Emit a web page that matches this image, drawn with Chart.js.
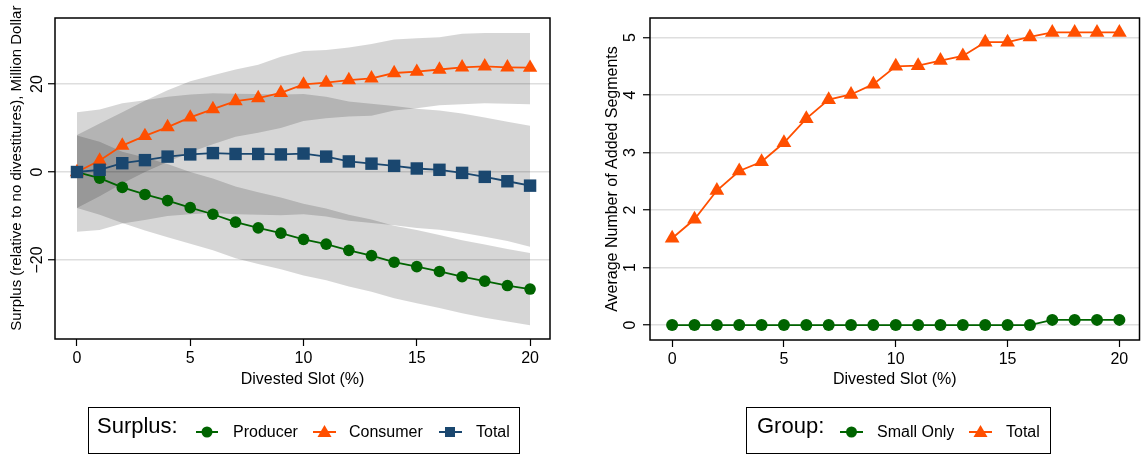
<!DOCTYPE html>
<html><head><meta charset="utf-8">
<script src="https://cdn.jsdelivr.net/npm/chart.js@4/dist/chart.umd.min.js"></script>
<style>
html,body{margin:0;padding:0;background:#fff;}
#wrap{position:relative;width:1148px;height:457px;overflow:hidden;background:#fff;}
canvas{position:absolute;top:0;}
#c1{left:0;}
#c2{left:575px;}
#lg{position:absolute;left:0;top:0;pointer-events:none;}
#lg text{font-family:"Liberation Sans",Arial,sans-serif;fill:#000;}
</style></head><body>
<div id="wrap">
<canvas id="c1" width="575" height="400"></canvas>
<canvas id="c2" width="573" height="400"></canvas>
<svg id="lg" width="1148" height="457">
  <rect x="88.5" y="407.5" width="431" height="46" fill="none" stroke="#000" stroke-width="1"/>
  <text x="97" y="433" font-size="22">Surplus:</text>
  <line x1="196" y1="432" x2="218" y2="432" stroke="#006400" stroke-width="2"/>
  <circle cx="207" cy="432" r="5.5" fill="#006400"/>
  <text x="233" y="437" font-size="16">Producer</text>
  <line x1="313" y1="432" x2="336" y2="432" stroke="#ff4f00" stroke-width="2"/>
  <polygon points="324.5,425 331.5,437 317.5,437" fill="#ff4f00"/>
  <text x="349" y="437" font-size="16">Consumer</text>
  <line x1="439" y1="432" x2="462" y2="432" stroke="#1a476f" stroke-width="2"/>
  <rect x="445" y="427" width="10" height="10" fill="#1a476f"/>
  <text x="476" y="437" font-size="16">Total</text>

  <rect x="746.5" y="407.5" width="304" height="46" fill="none" stroke="#000" stroke-width="1"/>
  <text x="757" y="433" font-size="22">Group:</text>
  <line x1="840" y1="432" x2="863" y2="432" stroke="#006400" stroke-width="2"/>
  <circle cx="851.5" cy="432" r="5.5" fill="#006400"/>
  <text x="877" y="437" font-size="16">Small Only</text>
  <line x1="969" y1="432" x2="992" y2="432" stroke="#ff4f00" stroke-width="2"/>
  <polygon points="980.5,425 987.5,437 973.5,437" fill="#ff4f00"/>
  <text x="1006" y="437" font-size="16">Total</text>
</svg>
</div>
<script>
// ---------- data ----------
const slots = [0,1,2,3,4,5,6,7,8,9,10,11,12,13,14,15,16,17,18,19,20];

const producer = [0,-1.4,-3.5,-5.1,-6.5,-8.1,-9.6,-11.4,-12.7,-13.9,-15.3,-16.4,-17.8,-19.0,-20.5,-21.5,-22.6,-23.8,-24.8,-25.8,-26.6];
const consumer = [0,2.6,6.0,8.2,10.2,12.4,14.3,16.1,16.8,18.0,19.9,20.3,20.9,21.3,22.5,22.8,23.3,23.8,24.0,23.8,23.7];
const totalSurplus = [0,0.5,2.0,2.7,3.5,4.0,4.3,4.1,4.1,4.0,4.2,3.5,2.4,1.9,1.4,0.8,0.5,-0.2,-1.1,-2.1,-3.1];

const producerHi = [8.3,6.9,4.6,3.3,1.8,0.0,-1.5,-3.3,-4.6,-5.8,-7.2,-8.3,-9.7,-10.8,-12.2,-13.2,-14.3,-15.5,-16.5,-17.5,-18.4];
const producerLo = [-8.2,-9.7,-11.6,-13.3,-14.8,-16.3,-17.8,-19.6,-20.9,-22.1,-23.5,-24.6,-26.0,-27.2,-28.7,-29.8,-30.9,-32.1,-33.1,-34.0,-34.8];
const consumerHi = [8.4,11.0,13.6,16.2,18.6,20.6,22.0,23.3,24.4,26.2,27.5,27.7,28.3,29.1,30.1,30.4,30.6,31.4,31.6,31.6,31.6];
const consumerLo = [-8.2,-5.5,-2.6,0.0,2.3,4.5,6.3,8.0,8.9,10.0,11.6,12.2,12.6,12.8,14.0,14.5,15.2,15.4,15.6,15.5,15.4];
const totalHi = [13.6,14.2,15.6,16.3,17.1,17.6,17.9,17.8,17.7,17.6,17.7,17.1,16.0,15.5,15.0,14.4,14.0,13.3,12.4,11.4,10.5];
const totalLo = [-13.6,-13.2,-11.7,-10.9,-10.0,-9.6,-9.3,-9.6,-9.7,-9.8,-9.6,-10.1,-11.1,-11.6,-12.1,-12.7,-13.1,-13.8,-14.7,-15.7,-17.0];

const smallOnly = [0,0,0,0,0,0,0,0,0,0,0,0,0,0,0,0,0,0.09,0.09,0.09,0.09];
const totalSegments = [1.51,1.84,2.34,2.68,2.84,3.17,3.59,3.92,4.01,4.19,4.50,4.51,4.60,4.68,4.92,4.92,5.01,5.09,5.09,5.09,5.09];

const xTicks = [0,5,10,15,20];
const leftYTicks = [-20,0,20];
const rightYTicks = [0,1,2,3,4,5];

// ---------- styling ----------
const GREEN = '#006400', ORANGE = '#ff4f00', NAVY = '#1a476f';
const BAND = 'rgba(0,0,0,0.16)';
const FONT = '"Liberation Sans", Arial, sans-serif';
Chart.defaults.font.family = FONT;
Chart.defaults.color = '#000';

const pts = arr => slots.map((x, i) => ({x: x, y: arr[i]}));
const fmt = v => String(v).replace('-', '\u2212');

function bandSets(hi, lo) {
  return [
    {data: pts(hi), showLine: false, borderColor: 'rgba(0,0,0,0)', pointRadius: 0, fill: '+1', backgroundColor: BAND, order: 10},
    {data: pts(lo), showLine: false, borderColor: 'rgba(0,0,0,0)', pointRadius: 0, fill: false, order: 10}
  ];
}
function lineSet(arr, color, style, radius, order) {
  return {data: pts(arr), borderColor: color, backgroundColor: color, borderWidth: 1.8,
    pointStyle: style, pointRadius: radius, pointBorderWidth: 0, pointBackgroundColor: color,
    fill: false, tension: 0, order: order};
}

const framePlugin = {
  id: 'frame',
  afterDatasetsDraw(chart) {
    const {ctx, chartArea: a} = chart;
    ctx.save();
    ctx.strokeStyle = '#000';
    ctx.lineWidth = 1.5;
    ctx.strokeRect(a.left, a.top, a.right - a.left, a.bottom - a.top);
    ctx.restore();
  }
};

function xScale(min, max, h) {
  return {
    type: 'linear', min: min, max: max,
    afterBuildTicks: s => { s.ticks = xTicks.map(v => ({value: v})); },
    afterFit: s => { s.height = h; },
    ticks: {autoSkip: false, maxRotation: 0, minRotation: 0, padding: 3, font: {size: 16}, callback: v => fmt(v)},
    grid: {drawOnChartArea: false, drawTicks: true, tickLength: 7, tickColor: '#000', tickWidth: 1.2},
    border: {display: false},
    title: {display: true, text: 'Divested Slot (%)', font: {size: 16}, padding: {top: 0, bottom: 11}}
  };
}
function yScale(min, max, ticks, w, pad, title, align, titlePad, titleSize) {
  return {
    type: 'linear', min: min, max: max,
    afterBuildTicks: s => { s.ticks = ticks.map(v => ({value: v})); },
    afterFit: s => { s.width = w; },
    ticks: {autoSkip: false, minRotation: 90, maxRotation: 90, crossAlign: 'center', padding: pad, font: {size: 16}, callback: v => fmt(v)},
    grid: {color: '#dedede', lineWidth: 1.5, drawTicks: true, tickLength: 7, tickColor: '#000', tickWidth: 1.2},
    border: {display: false},
    title: {display: true, text: title, align: align, font: {size: titleSize}, padding: {top: titlePad, bottom: 0}}
  };
}

const common = {
  responsive: false, animation: false, events: [], devicePixelRatio: 1,
  plugins: {legend: {display: false}, tooltip: {enabled: false}}
};

new Chart(document.getElementById('c1'), {
  type: 'line',
  data: {
    datasets: [
      ...bandSets(totalHi, totalLo),
      ...bandSets(consumerHi, consumerLo),
      ...bandSets(producerHi, producerLo),
      lineSet(producer, GREEN, 'circle', 5.8, 3),
      lineSet(consumer, ORANGE, 'triangle', 8.3, 2),
      lineSet(totalSurplus, NAVY, 'rect', 8.8, 1)
    ]
  },
  options: Object.assign({}, common, {
    layout: {padding: {left: 0, right: 25, top: 18, bottom: 0}},
    scales: {
      x: xScale(-0.97, 20.88, 61),
      y: yScale(-37.95, 35, leftYTicks, 55, -3.3, '  Surplus (relative to no divestitures), Million Dollar', 'start', 8, 15)
    }
  }),
  plugins: [framePlugin]
});

new Chart(document.getElementById('c2'), {
  type: 'line',
  data: {
    datasets: [
      lineSet(smallOnly, GREEN, 'circle', 6, 2),
      lineSet(totalSegments, ORANGE, 'triangle', 8.5, 1)
    ]
  },
  options: Object.assign({}, common, {
    layout: {padding: {left: 0, right: 1.5, top: 18, bottom: 0}},
    scales: {
      x: xScale(-0.99, 20.9, 60),
      y: yScale(-0.26, 5.34, rightYTicks, 75, 7.5, 'Average Number of Added Segments', 'center', 28.4, 16)
    }
  }),
  plugins: [framePlugin]
});
</script>
</body></html>
